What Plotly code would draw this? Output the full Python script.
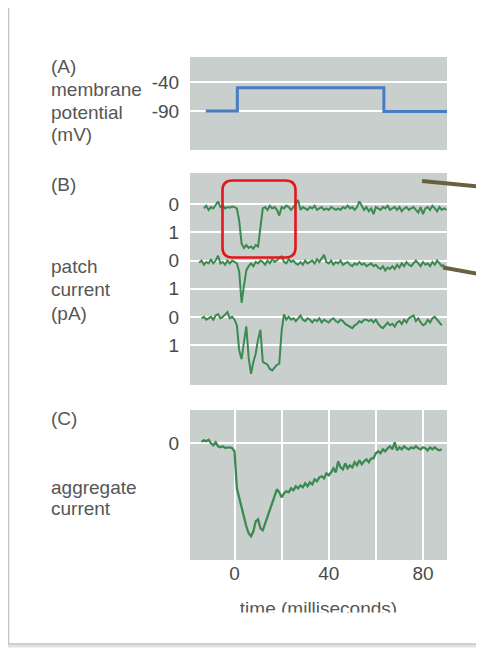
import plotly.graph_objects as go

# The page body has an 8px margin, so the figure is sized to fit the
# 484x651 window and reference pixel positions are shifted by that margin.
OFF = 8
W, H = 484 - OFF, 651 - OFF

# ---------------- data ----------------
time_ms = list(range(-15, 91))

# (A) membrane potential step
membrane_time_ms = [-12.2, 1.2, 63.4, 90.2]
membrane_mV = [-90, -50, -91, -91]
membrane_ticks = [-40, -90]
membrane_tick_text = ["-40", "-90"]

# (B) single-channel patch currents (pA, inward plotted downward)
trace1_pA = [
    None, None, 0.15, 0.05, 0.2, 0.1, 0.15, 0.0, -0.1, 0.1,
    0.05, 0.15, 0.1, 0.12, 0.08, 0.1, 0.15, 0.6, 1.4, 1.55,
    1.45, 1.55, 1.5, 1.58, 1.45, 1.5, 0.9, 0.15, 0.1, 0.2,
    0.05, 0.15, 0.1, 0.2, 0.4, 0.1, 0.15, 0.05, 0.1, 0.2,
    0.1, 0.0, -0.15, 0.2, 0.1, 0.15, 0.2, 0.1, 0.15, 0.05,
    0.2, 0.15, 0.1, 0.2, 0.15, 0.2, 0.1, 0.15, 0.2, 0.15,
    0.2, 0.1, 0.15, 0.05, 0.15, 0.1, 0.2, 0.1, -0.1, 0.05,
    0.2, 0.1, 0.25, 0.15, 0.35, 0.1, 0.15, 0.2, 0.1, 0.15,
    0.05, 0.2, 0.15, 0.1, 0.2, 0.1, 0.25, 0.15, 0.1, 0.2,
    0.15, 0.1, 0.2, 0.3, 0.1, 0.35, 0.15, 0.1, 0.2, 0.05,
    0.15, 0.25, 0.1, 0.2, 0.15, 0.2,
]
trace2_pA = [
    0.08, 0.0, 0.15, 0.05, 0.1, -0.05, 0.1, 0.0, -0.17, 0.1,
    0.05, 0.15, 0.0, 0.1, 0.0, 0.05, 0.1, 0.4, 1.5, 0.9,
    0.35, 0.2, 0.1, 0.2, 0.05, 0.1, 0.0, 0.05, 0.15, 0.0,
    0.1, -0.05, 0.05, 0.0, -0.1, -0.15, 0.05, 0.1, -0.05, 0.05,
    0.0, 0.1, 0.15, 0.05, 0.15, 0.0, 0.1, 0.05, 0.0, 0.1,
    -0.05, 0.05, -0.1, -0.2, 0.05, 0.1, 0.0, 0.15, 0.05, 0.1,
    0.0, 0.15, 0.1, 0.05, 0.15, 0.2, 0.1, 0.15, 0.05, 0.15,
    0.1, 0.2, 0.15, 0.1, 0.2, 0.15, 0.25, 0.3, 0.2, 0.35,
    0.25, 0.3, 0.2, 0.3, 0.15, 0.25, 0.1, 0.2, 0.05, 0.15,
    0.2, 0.1, 0.0, 0.1, 0.2, 0.05, 0.15, 0.1, 0.2, 0.05,
    0.15, 0.0, 0.1, 0.2, 0.15, None,
]
trace3_pA = [
    None, 0.05, 0.0, 0.1, 0.05, 0.0, 0.1, -0.05, -0.1, 0.05,
    0.0, -0.1, -0.17, 0.05, 0.0, 0.1, 0.3, 1.2, 1.5, 0.9,
    0.34, 1.45, 2.02, 1.6, 1.3, 0.8, 0.46, 1.6, 1.65, 1.7,
    1.85, 1.9, 1.8, 1.7, 1.66, 0.5, -0.09, 0.1, 0.0, 0.1,
    0.05, 0.15, 0.05, -0.05, 0.1, 0.15, 0.05, 0.1, 0.2, 0.1,
    0.15, 0.05, 0.2, 0.1, 0.15, 0.2, 0.1, 0.05, 0.15, 0.2,
    0.1, 0.15, 0.25, 0.3, 0.35, 0.4, 0.3, 0.25, 0.15, 0.2,
    0.1, 0.1, 0.15, 0.1, 0.2, 0.1, 0.25, 0.35, 0.4, 0.3,
    0.2, 0.3, 0.25, 0.35, 0.2, 0.15, 0.25, 0.1, 0.2, 0.05,
    0.0, -0.05, 0.15, 0.05, 0.2, 0.3, 0.25, 0.1, 0.2, 0.05,
    0.0, 0.1, 0.2, 0.3, None, None,
]
patch_offsets = [0, 2, 4]
patch_tick_vals = [0, 1, 2, 3, 4, 5]
patch_tick_text = ["0", "1", "0", "1", "0", "1"]

# (C) aggregate current (arbitrary units)
aggregate_current = [
    None, 0.15, 0.3, 0.2, 0.35, 0.0, -0.2, 0.1, -0.3, -0.4,
    -0.3, -0.45, -0.4, -0.4, -0.5, -0.8, -4.5, -5.5, -6.5, -7.5,
    -8.3, -9.0, -9.3, -8.8, -7.8, -7.6, -8.5, -8.7, -8.0, -7.3,
    -6.6, -5.9, -5.2, -4.6, -4.9, -5.4, -5.0, -4.8, -4.9, -4.5,
    -4.7, -4.3, -4.5, -4.2, -4.4, -4.0, -4.3, -3.9, -4.1, -3.6,
    -3.8, -3.4, -3.3, -3.5, -3.0, -3.2, -2.9, -2.5, -2.9, -1.8,
    -2.4, -2.6, -2.0, -2.5, -2.2, -2.4, -1.9, -2.2, -1.7, -2.1,
    -1.8, -1.6, -1.9, -1.5, -1.5, -1.0, -0.8, -1.0, -0.6, -0.8,
    -0.5, -0.3, -0.6, 0.1, -0.7, -0.4, -0.6, -0.3, -0.5, -0.6,
    -0.4, -0.5, -0.3, -0.5, -0.6, -0.4, -0.5, -0.7, -0.4, -0.6,
    -0.4, -0.6, -0.7, -0.6, None, None,
]
time_tick_vals = [0, 20, 40, 60, 80]
time_tick_text = ["0", "", "40", "", "80"]

# ---------------- style ----------------
FONT = "Liberation Sans, Arial, sans-serif"
TEXT = "#565656"
TICK = "#4a4a4a"
PANEL = "#c9cfcc"
GREEN = "#3b8a52"
BLUE = "#4a7cc4"
FS = 19


def px(x):
    return (x - OFF) / W


def py(y):
    return 1 - (y - OFF) / H


XDOM = [px(190), px(447)]
XR = [-18.9, 90.2]

fig = go.Figure()

fig.add_trace(go.Scatter(x=membrane_time_ms, y=membrane_mV, mode="lines",
                         line=dict(color=BLUE, width=3, shape="hv"),
                         xaxis="x", yaxis="y", hoverinfo="skip"))

for vals, off in zip([trace1_pA, trace2_pA, trace3_pA], patch_offsets):
    ys = [None if v is None else v + off for v in vals]
    fig.add_trace(go.Scatter(x=time_ms[:len(ys)], y=ys, mode="lines",
                             line=dict(color=GREEN, width=2),
                             xaxis="x2", yaxis="y2", hoverinfo="skip"))

fig.add_trace(go.Scatter(x=time_ms[:len(aggregate_current)], y=aggregate_current,
                         mode="lines", line=dict(color=GREEN, width=2.3),
                         xaxis="x3", yaxis="y3", hoverinfo="skip"))

# clipped axis title (cut off at bottom like the reference)
fig.add_trace(go.Scatter(x=[0.5], y=[610.3], mode="text",
                         text=["time (milliseconds)"], textposition="middle center",
                         textfont=dict(size=FS, color=TEXT, family=FONT),
                         cliponaxis=True, xaxis="x4", yaxis="y4", hoverinfo="skip"))

hidden_x = dict(domain=XDOM, range=XR, showticklabels=False, showgrid=False,
                zeroline=False, showline=False, ticks="")
ytick = dict(showgrid=True, gridcolor="white", gridwidth=2, zeroline=False,
             showline=False, ticks="outside", ticklen=6,
             tickcolor="rgba(0,0,0,0)", tickfont=dict(size=FS, color=TICK, family=FONT))

fig.update_layout(
    width=W, height=H,
    margin=dict(l=0, r=0, t=0, b=0),
    paper_bgcolor="white", plot_bgcolor="rgba(0,0,0,0)",
    showlegend=False,
    font=dict(family=FONT, size=FS, color=TEXT),
    xaxis=dict(anchor="y", **hidden_x),
    yaxis=dict(anchor="x", domain=[py(150), py(57)], range=[-157.2, 3.1],
               tickmode="array", tickvals=membrane_ticks, ticktext=membrane_tick_text, **ytick),
    xaxis2=dict(anchor="y2", **hidden_x),
    yaxis2=dict(anchor="x2", domain=[py(385), py(173)], range=[6.42, -1.11],
                tickmode="array", tickvals=patch_tick_vals, ticktext=patch_tick_text, **ytick),
    xaxis3=dict(anchor="y3", domain=XDOM, range=XR, tickmode="array",
                tickvals=time_tick_vals, ticktext=time_tick_text,
                showgrid=True, gridcolor="white", gridwidth=2, zeroline=False,
                showline=False, ticks="",
                tickfont=dict(size=FS, color=TICK, family=FONT)),
    yaxis3=dict(anchor="x3", domain=[py(560), py(410)], range=[-11.67, 3.33],
                tickmode="array", tickvals=[0], ticktext=["0"], **ytick),
    xaxis4=dict(anchor="y4", domain=XDOM, range=[0, 1], visible=False),
    yaxis4=dict(anchor="x4", domain=[py(612.5), py(585)], range=[612.5, 585], visible=False),
)

shapes = []
# grey panel backgrounds (below gridlines)
for xr, yr in [("x", "y"), ("x2", "y2"), ("x3", "y3")]:
    shapes.append(dict(type="rect", xref=f"{xr} domain", yref=f"{yr} domain",
                       x0=0, x1=1, y0=0, y1=1, fillcolor=PANEL, line=dict(width=0),
                       layer="below"))

# outer frame with soft shadow
shapes.append(dict(type="rect", xref="paper", yref="paper",
                   x0=px(6), x1=px(483), y0=py(646), y1=py(4),
                   line=dict(color="#e2e2e2", width=3), fillcolor="rgba(0,0,0,0)"))
shapes.append(dict(type="rect", xref="paper", yref="paper",
                   x0=px(8.5), x1=px(481.5), y0=py(644), y1=py(6),
                   line=dict(color="#c2c2c2", width=1.5), fillcolor="rgba(0,0,0,0)"))


# red rounded highlight box
def rounded(x0, y0, x1, y1, r):
    P = lambda x, y: f"{px(x):.5f},{py(y):.5f}"
    return (f"M {P(x0 + r, y0)} L {P(x1 - r, y0)} Q {P(x1, y0)} {P(x1, y0 + r)} "
            f"L {P(x1, y1 - r)} Q {P(x1, y1)} {P(x1 - r, y1)} "
            f"L {P(x0 + r, y1)} Q {P(x0, y1)} {P(x0, y1 - r)} "
            f"L {P(x0, y0 + r)} Q {P(x0, y0)} {P(x0 + r, y0)} Z")


shapes.append(dict(type="path", xref="paper", yref="paper",
                   path=rounded(222.5, 180.5, 295.5, 257.5, 10),
                   line=dict(color="#e3161b", width=2.6), layer="above"))

# olive pointer lines
for (x0, y0, x1, y1) in [(422, 181, 484, 187), (443, 267.5, 484, 275)]:
    shapes.append(dict(type="line", xref="paper", yref="paper",
                       x0=px(x0), y0=py(y0), x1=px(x1), y1=py(y1),
                       line=dict(color="#6a6040", width=4), layer="above"))

fig.update_layout(shapes=shapes)

# left-hand labels
labels = [
    ("(A)", 67), ("membrane", 90), ("potential", 112.5), ("(mV)", 135),
    ("(B)", 184), ("patch", 266), ("current", 289.5), ("(pA)", 313),
    ("(C)", 418), ("aggregate", 487), ("current", 508.5),
]
fig.update_layout(annotations=[
    dict(text=t, x=px(49), y=py(yy), xref="paper", yref="paper",
         xanchor="left", yanchor="middle", showarrow=False,
         font=dict(size=FS, color=TEXT, family=FONT))
    for t, yy in labels
])

fig.write_html("out.html")
